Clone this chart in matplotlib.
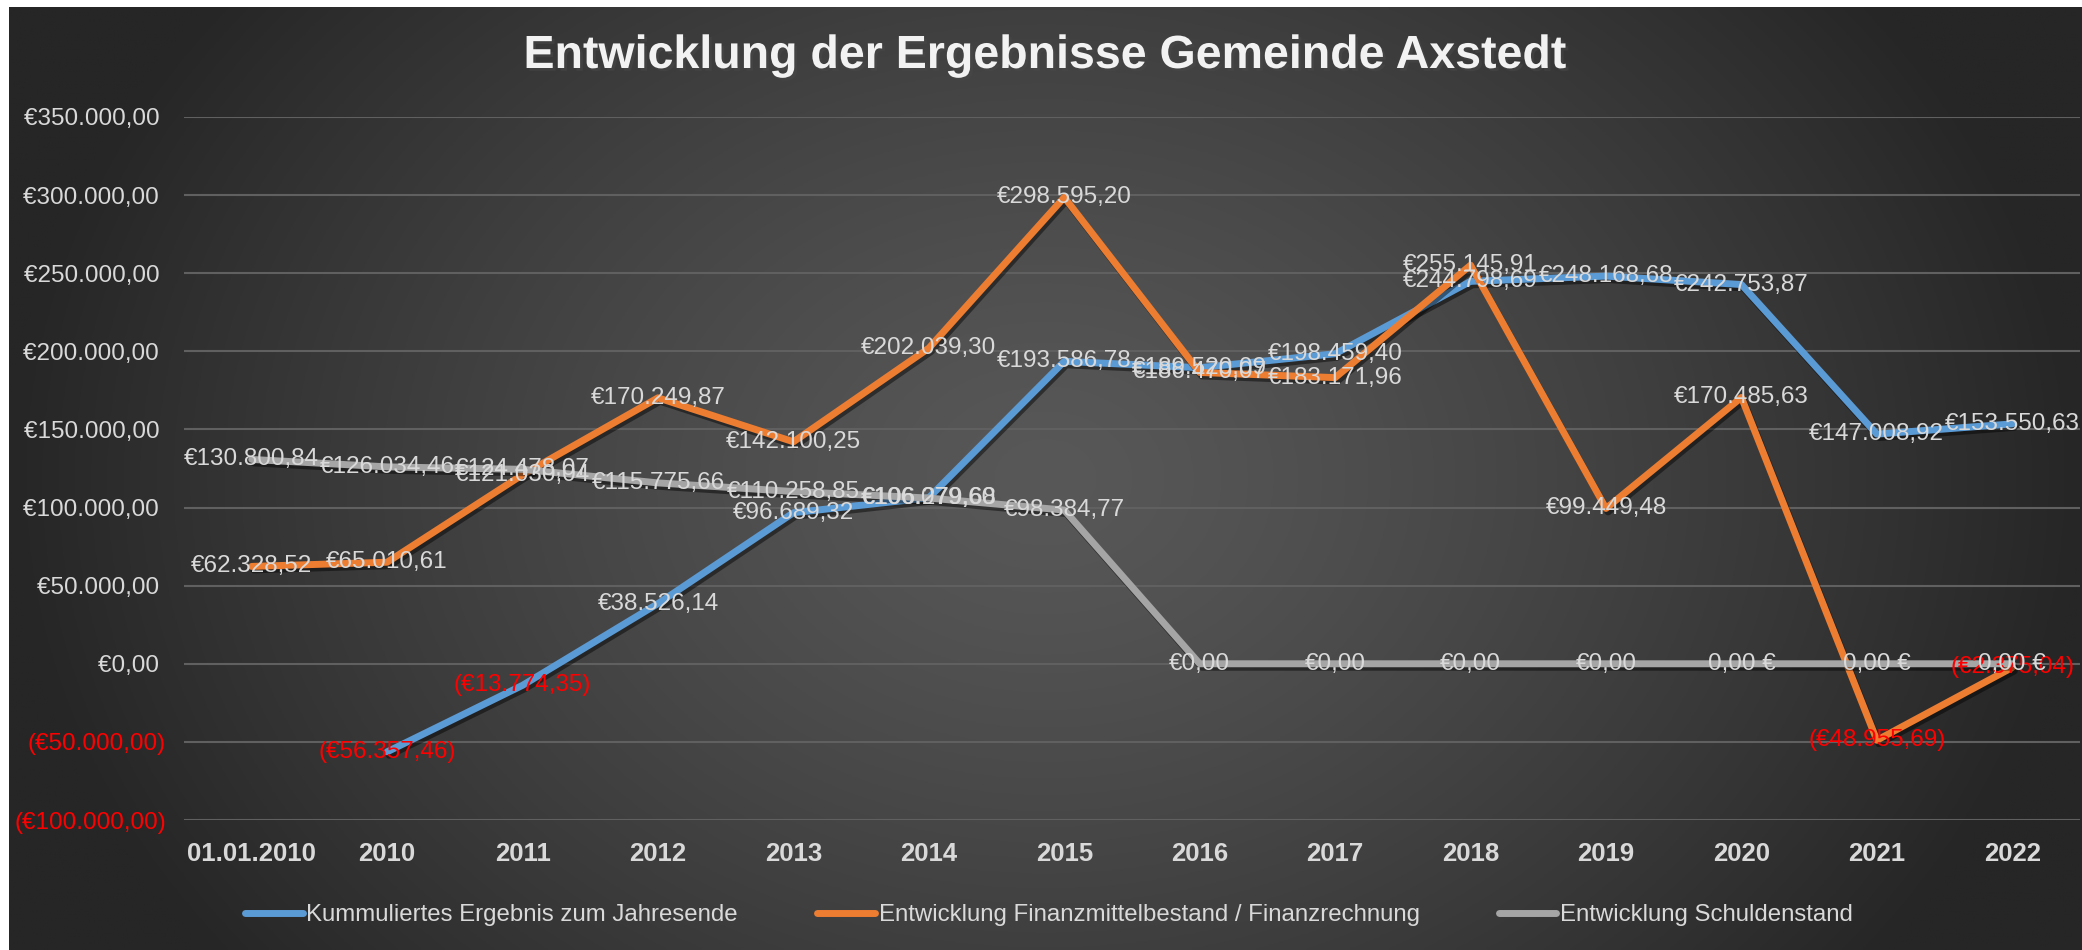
import numpy as np
import matplotlib
matplotlib.use("Agg")
import matplotlib.pyplot as plt
import matplotlib.patheffects as pe
from matplotlib.lines import Line2D

plt.rcParams['font.family'] = ['Liberation Sans', 'DejaVu Sans']

# ── Daten ────────────────────────────────────────────────────────────────────
categories = ['01.01.2010', '2010', '2011', '2012', '2013', '2014', '2015',
              '2016', '2017', '2018', '2019', '2020', '2021', '2022']

ergebnis = [np.nan, -56357.46, -13774.35, 38526.14, 96689.32, 106279.68,
            193586.78, 189520.09, 198459.40, 244798.69, 248168.68,
            242753.87, 147008.92, 153550.63]

finanzmittel = [62328.52, 65010.61, 121030.04, 170249.87, 142100.25,
                202039.30, 298595.20, 186470.07, 183171.96, 255145.91,
                99449.48, 170485.63, -48955.69, -2375.04]

schulden = [130800.84, 126034.46, 124478.07, 115775.66, 110258.85,
            106079.60, 98384.77, 0, 0, 0, 0, 0, 0, 0]

# Jahre, in denen das Label als "0,00 €" formatiert ist
schulden_suffix_years = ['2020', '2021', '2022']

series_names = ['Kummuliertes Ergebnis zum Jahresende',
                'Entwicklung Finanzmittelbestand / Finanzrechnung',
                'Entwicklung Schuldenstand']

y_ticks = [-100000, -50000, 0, 50000, 100000, 150000, 200000, 250000, 300000, 350000]

TITLE = 'Entwicklung der Ergebnisse Gemeinde Axstedt'

COLORS = ['#5b9bd5', '#ed7d31', '#a5a5a5']
TXT = '#d9d9d9'
RED = '#ff0000'


def eur(v, suffix=False):
    s = f"{abs(v):,.2f}".replace(',', 'X').replace('.', ',').replace('X', '.')
    if suffix:
        return f"{s} €"
    return f"(€{s})" if v < 0 else f"€{s}"


# ── Figure + Hintergrund ─────────────────────────────────────────────────────
W, H = 2082, 950
fig = plt.figure(figsize=(W / 100, H / 100), dpi=100, facecolor='white')

bg = fig.add_axes([9 / W, 0, 1 - 9 / W, (H - 7) / H], zorder=-10)
yy, xx = np.mgrid[0:1:300j, 0:1:700j]
d = np.sqrt(((xx - 0.5) / 0.5) ** 2 + ((yy - 0.5) / 0.85) ** 2)
d = np.clip(d, 0, 1) ** 1.3
c0, c1 = 0x58 / 255, 0x26 / 255
grad = c0 + (c1 - c0) * d
bg.imshow(np.dstack([grad, grad, grad]), aspect='auto', extent=[0, 1, 0, 1])
bg.axis('off')

ax = fig.add_axes([184 / W, (H - 820) / H, (2080 - 184) / W, (820 - 117) / H])
ax.set_facecolor('none')

x = np.arange(len(categories))
shadow = [pe.SimpleLineShadow(offset=(1.5, -2.5), shadow_color='black', alpha=0.45),
          pe.Normal()]

all_series = [ergebnis, finanzmittel, schulden]
for vals, col, name in zip(all_series, COLORS, series_names):
    ax.plot(x, vals, color=col, lw=5, solid_joinstyle='round',
            solid_capstyle='round', zorder=3, path_effects=shadow)

# Datenbeschriftungen (zentriert auf dem Punkt, wie in Excel)
for si, vals in enumerate(all_series):
    for i, v in enumerate(vals):
        if np.isnan(v):
            continue
        suffix = si == 2 and categories[i] in schulden_suffix_years
        ax.text(x[i], v, eur(v, suffix), ha='center', va='center',
                fontsize=17.5, color=RED if v < 0 else TXT, zorder=5)

ax.set_xlim(-0.5, len(categories) - 0.5)
ax.set_ylim(-100000, 350000)
ax.set_yticks(y_ticks)
ax.set_yticklabels([eur(t) + ('' if t < 0 else ' ') for t in y_ticks])
for lab, t in zip(ax.get_yticklabels(), y_ticks):
    lab.set_color(RED if t < 0 else TXT)
ax.tick_params(axis='y', length=0, pad=13, labelsize=17.5)
ax.set_xticks(x)
ax.set_xticklabels(categories, fontweight='bold')
ax.tick_params(axis='x', length=0, pad=16, labelsize=18.5, labelcolor=TXT)

ax.grid(True, axis='y', color='#606060', lw=1.5)
ax.set_axisbelow(True)
for s in ax.spines.values():
    s.set_visible(False)

fig.text(1045 / W, 1 - 56 / H, TITLE, ha='center', va='center', fontsize=33.5,
         fontweight='bold', color='#f2f2f2',
         path_effects=[pe.withSimplePatchShadow(offset=(2, -2), alpha=0.5)])

handles = [Line2D([0], [0], color=c, lw=5, solid_capstyle='round') for c in COLORS]
fig.legend(handles, series_names, loc='center', bbox_to_anchor=(1049 / W, 1 - 915 / H),
           ncol=3, frameon=False, fontsize=17.3, handlelength=2.4,
           handletextpad=0.15, columnspacing=3.3, labelcolor=TXT)

fig.savefig('out.png', dpi=100, facecolor='white')
